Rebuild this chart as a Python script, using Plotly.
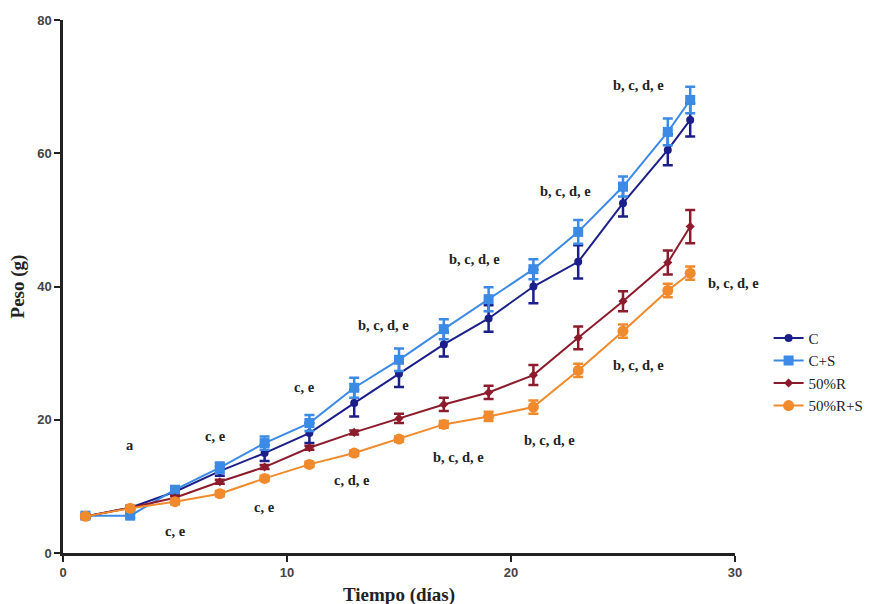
import plotly.graph_objects as go

# Días de medición
dias = [1, 3, 5, 7, 9, 11, 13, 15, 17, 19, 21, 23, 25, 27, 28]

# Peso medio (g) y error por grupo
peso_c = [5.5, 6.8, 9.2, 12.3, 15.0, 18.0, 22.5, 26.9, 31.3, 35.2, 40.0, 43.7, 52.5, 60.5, 65.0]
err_c = [0.3, 0.3, 0.5, 0.7, 1.2, 1.5, 2.0, 2.0, 1.8, 2.0, 2.5, 2.5, 2.0, 2.3, 2.5]

peso_cs = [5.6, 5.6, 9.5, 12.8, 16.5, 19.5, 24.8, 29.0, 33.6, 38.1, 42.6, 48.2, 55.0, 63.2, 68.0]
err_cs = [0.3, 0.3, 0.5, 0.8, 1.0, 1.2, 1.5, 1.7, 1.5, 1.8, 1.5, 1.8, 1.5, 2.0, 2.0]

peso_r = [5.5, 6.8, 8.3, 10.7, 12.9, 15.8, 18.1, 20.2, 22.3, 24.1, 26.7, 32.3, 37.8, 43.6, 49.0]
err_r = [0.2, 0.2, 0.3, 0.3, 0.3, 0.3, 0.3, 0.7, 1.0, 1.0, 1.5, 1.7, 1.5, 1.8, 2.5]

peso_rs = [5.5, 6.7, 7.7, 8.9, 11.2, 13.3, 15.0, 17.1, 19.3, 20.5, 21.9, 27.4, 33.3, 39.4, 42.0]
err_rs = [0.3, 0.3, 0.4, 0.4, 0.4, 0.4, 0.4, 0.4, 0.5, 0.7, 1.0, 1.0, 1.0, 1.0, 1.0]

nombres = ["C", "C+S", "50%R", "50%R+S"]
colores = ["#1c1f8a", "#3a8ae6", "#8c1c2c", "#f08a2c"]
simbolos = ["circle", "square", "diamond", "circle"]
tamanos = [8, 10, 7, 11]

# Letras de significancia: texto y posición (día, peso)
letras = ["a", "c, e", "c, e", "c, e", "c, e", "c, d, e", "b, c, d, e", "b, c, d, e",
          "b, c, d, e", "b, c, d, e", "b, c, d, e", "b, c, d, e", "b, c, d, e", "b, c, d, e"]
letras_x = [3.0, 5.0, 6.8, 9.0, 10.8, 12.9, 14.3, 17.65, 18.35, 21.7, 22.45, 25.67, 25.7, 29.95]
letras_y = [16.2, 3.3, 17.6, 6.9, 24.9, 11.0, 34.2, 14.4, 44.1, 16.9, 54.4, 28.2, 70.3, 40.5]

fig = go.Figure()
for nombre, y, e, col, sim, tam in zip(nombres, [peso_c, peso_cs, peso_r, peso_rs],
                                       [err_c, err_cs, err_r, err_rs], colores, simbolos, tamanos):
    fig.add_trace(go.Scatter(
        x=dias, y=y, name=nombre, mode="lines+markers",
        line=dict(color=col, width=2),
        marker=dict(color=col, symbol=sim, size=tam),
        error_y=dict(type="data", array=e, visible=True, color=col, thickness=2.5, width=5),
    ))

for t, x, y in zip(letras, letras_x, letras_y):
    fig.add_annotation(x=x, y=y, text=f"<b>{t}</b>", showarrow=False,
                       font=dict(family="Liberation Serif", size=14.5, color="#222222"))

# Títulos de los ejes
titulo_font = dict(family="Liberation Serif", size=19, color="#222222")
fig.add_annotation(xref="paper", yref="paper", x=0.5, y=-0.079, yanchor="middle",
                   text="<b>Tiempo (días)</b>", showarrow=False, font=titulo_font)
fig.add_annotation(xref="paper", yref="paper", x=-0.067, y=0.5, xanchor="center",
                   text="<b>Peso (g)</b>", showarrow=False, textangle=-90, font=titulo_font)

eje = dict(showline=True, linecolor="#222222", linewidth=2.5, ticks="outside",
           ticklen=6, tickwidth=2, tickcolor="#222222", showgrid=False, zeroline=False,
           automargin=False,
           tickfont=dict(family="Liberation Sans", size=13, color="#444444", weight="bold"))

fig.update_layout(
    width=881, height=604,
    margin=dict(l=63, r=146, t=20, b=51),
    plot_bgcolor="white", paper_bgcolor="white",
    xaxis=dict(range=[0, 30], tickvals=[0, 10, 20, 30], **eje),
    yaxis=dict(range=[0, 80], tickvals=[0, 20, 40, 60, 80], **eje),
    legend=dict(x=1.05, y=0.34, xanchor="left", yanchor="middle",
                font=dict(family="Liberation Serif", size=15, color="#222222"),
                tracegroupgap=0, itemwidth=30, bgcolor="rgba(0,0,0,0)"),
    showlegend=True,
)

fig.write_html("out.html")
